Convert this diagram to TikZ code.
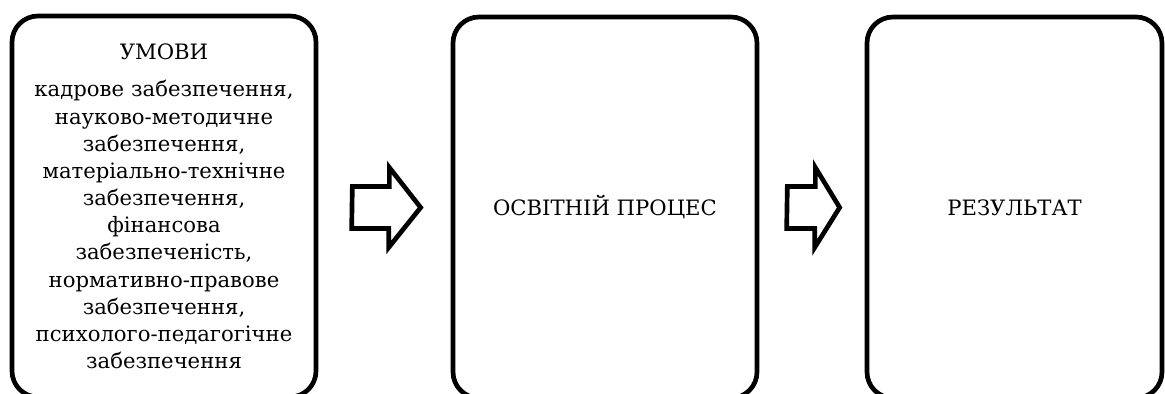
\documentclass[tikz,border=0pt]{standalone}
\usepackage{fontspec}
\setmainfont{DejaVu Serif}
\usetikzlibrary{positioning, calc}

\begin{document}
\begin{tikzpicture}[
  x=0.6pt, y=-0.6pt,
  every node/.style={font=\fontsize{12.7}{16.3}\selectfont},
  stage/.style={draw, line width=2.8pt, rounded corners=15.6pt, minimum width=182.4pt, minimum height=228.6pt, align=center, inner sep=0pt},
  flow/.style={draw, line width=2.8pt, fill=white, miter limit=4}
]
  \useasboundingbox (0,0) rectangle (1165,394);

  \node[stage, text width=178pt] (umovy) at (164,206.5) {УМОВИ\\[6pt] кадрове забезпечення,\\ науково-методичне\\ забезпечення,\\ матеріально-технічне\\ забезпечення,\\ фінансова\\ забезпеченість,\\ нормативно-правове\\ забезпечення,\\ психолого-педагогічне\\ забезпечення};
  \node[stage] (proces) at (605,207.5) {ОСВІТНІЙ ПРОЦЕС};
  \node[stage, minimum width=177pt] (rezult) at (1014.5,207.5) {РЕЗУЛЬТАТ};

  % block arrows between the stages
  \draw[flow] ($(umovy.east)+(34,-20)$) -- ++(37,0) -- ++(0,-19) -- ($(proces.west)+(-30,0)$) -- ++(-32,40) -- ++(0,-19) -- ++(-37,0) -- cycle;
  \draw[flow] ($(proces.east)+(28,-21)$) -- ++(28,0) -- ++(0,-19) -- ($(rezult.west)+(-25,0)$) -- ++(-25,40) -- ++(0,-19) -- ++(-28,0) -- cycle;

\end{tikzpicture}
\end{document}
